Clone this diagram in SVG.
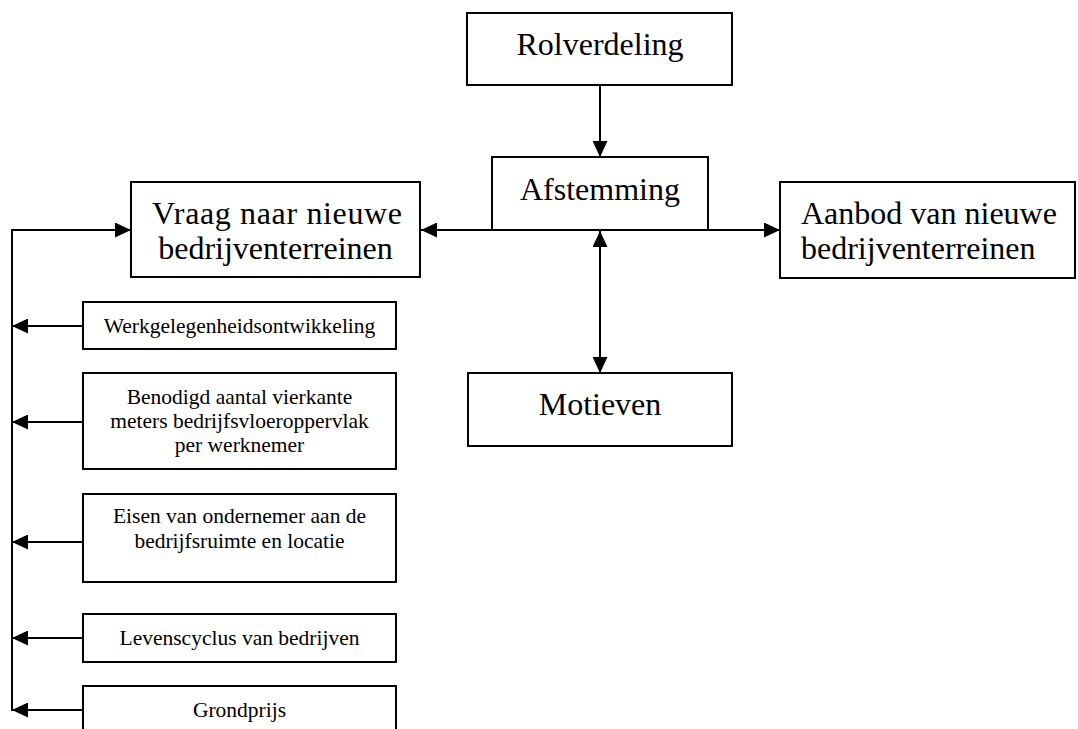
<svg xmlns="http://www.w3.org/2000/svg" width="1078" height="729" viewBox="0 0 1078 729">
  <style>
    .box { fill: #ffffff; stroke: #000000; stroke-width: 2; }
    .big { font-family: "Liberation Serif", "Times New Roman", serif; font-size: 32px; fill: #000000; }
    .small { font-family: "Liberation Serif", "Times New Roman", serif; font-size: 21.5px; fill: #000000; }
    .link { fill: none; stroke: #000000; stroke-width: 2; }
  </style>
  <defs>
    <marker id="arrow" markerUnits="userSpaceOnUse" markerWidth="16" markerHeight="15" refX="16" refY="7.5" orient="auto-start-reverse">
      <path d="M0,0 L16,7.5 L0,15 Z" fill="#000000"/>
    </marker>
  </defs>
  <rect width="1078" height="729" fill="#ffffff"/>

  <g id="connectors">
    <line class="link" x1="600" y1="86" x2="600" y2="157" marker-end="url(#arrow)"/>
    <line class="link" x1="421" y1="230" x2="780" y2="230" marker-start="url(#arrow)" marker-end="url(#arrow)"/>
    <line class="link" x1="600" y1="231" x2="600" y2="373" marker-start="url(#arrow)" marker-end="url(#arrow)"/>
    <polyline class="link" points="12,711 12,230 131,230" marker-end="url(#arrow)"/>
    <line class="link" x1="83" y1="326" x2="12" y2="326" marker-end="url(#arrow)"/>
    <line class="link" x1="83" y1="422" x2="12" y2="422" marker-end="url(#arrow)"/>
    <line class="link" x1="83" y1="542" x2="12" y2="542" marker-end="url(#arrow)"/>
    <line class="link" x1="83" y1="638" x2="12" y2="638" marker-end="url(#arrow)"/>
    <line class="link" x1="83" y1="710" x2="12" y2="710" marker-end="url(#arrow)"/>
  </g>

  <g id="rolverdeling">
    <rect class="box" x="467" y="13" width="265" height="72"/>
    <text class="big" x="600" y="55" text-anchor="middle">Rolverdeling</text>
  </g>

  <g id="afstemming">
    <rect class="box" x="492" y="157" width="216" height="73"/>
    <text class="big" x="600" y="200" text-anchor="middle">Afstemming</text>
  </g>

  <g id="vraag">
    <rect class="box" x="131" y="182" width="289" height="95"/>
    <text class="big" x="152" y="224" textLength="250" lengthAdjust="spacing">Vraag naar nieuwe</text>
    <text class="big" x="275.5" y="259" text-anchor="middle">bedrijventerreinen</text>
  </g>

  <g id="aanbod">
    <rect class="box" x="780" y="182" width="295" height="96"/>
    <text class="big" x="801" y="224">Aanbod van nieuwe</text>
    <text class="big" x="801" y="259">bedrijventerreinen</text>
  </g>

  <g id="motieven">
    <rect class="box" x="468" y="373" width="264" height="73"/>
    <text class="big" x="600" y="415" text-anchor="middle">Motieven</text>
  </g>

  <g id="werkgelegenheid">
    <rect class="box" x="83" y="302" width="313" height="47"/>
    <text class="small" x="239.5" y="333" text-anchor="middle">Werkgelegenheidsontwikkeling</text>
  </g>

  <g id="vloeroppervlak">
    <rect class="box" x="83" y="373" width="313" height="96"/>
    <text class="small" x="239.5" y="404" text-anchor="middle">Benodigd aantal vierkante</text>
    <text class="small" x="239.5" y="428" text-anchor="middle">meters bedrijfsvloeroppervlak</text>
    <text class="small" x="239.5" y="452" text-anchor="middle">per werknemer</text>
  </g>

  <g id="eisen">
    <rect class="box" x="83" y="494" width="313" height="88"/>
    <text class="small" x="239.5" y="523" text-anchor="middle">Eisen van ondernemer aan de</text>
    <text class="small" x="239.5" y="548" text-anchor="middle">bedrijfsruimte en locatie</text>
  </g>

  <g id="levenscyclus">
    <rect class="box" x="83" y="614" width="313" height="48"/>
    <text class="small" x="239.5" y="645" text-anchor="middle">Levenscyclus van bedrijven</text>
  </g>

  <g id="grondprijs">
    <rect class="box" x="83" y="686" width="313" height="60"/>
    <text class="small" x="239.5" y="717" text-anchor="middle">Grondprijs</text>
  </g>
</svg>
